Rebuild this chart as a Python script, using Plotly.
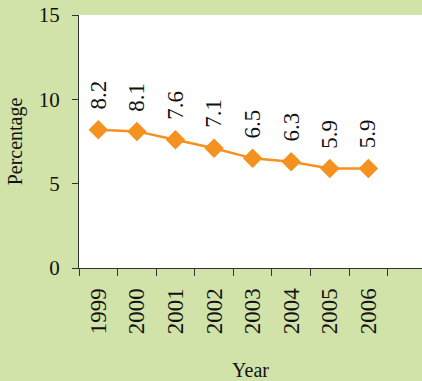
import plotly.graph_objects as go

# Percentage by year
years = ["1999", "2000", "2001", "2002", "2003", "2004", "2005", "2006"]
percentage = [8.2, 8.1, 7.6, 7.1, 6.5, 6.3, 5.9, 5.9]
y_ticks = [0, 5, 10, 15]

BG = "#d1e3a9"
ORANGE = "#f5911e"
FONT = "Liberation Serif"
INK = "#111111"

fig = go.Figure()
fig.add_trace(go.Scatter(
    x=years, y=percentage, mode="lines+markers",
    line=dict(color=ORANGE, width=2.5),
    marker=dict(symbol="diamond", size=15, color=ORANGE),
    showlegend=False, cliponaxis=False,
))

# Rotated value labels above each point (category index positions)
for i, v in enumerate(percentage):
    fig.add_annotation(
        x=i, y=v, xref="x", yref="y", text=f"{v:.1f}", showarrow=False,
        textangle=-90, xanchor="center", yanchor="bottom", yshift=18,
        font=dict(family=FONT, size=23, color=INK),
    )

fig.update_layout(
    width=422, height=381,
    margin=dict(l=79, r=0, t=15, b=113),
    paper_bgcolor=BG, plot_bgcolor="white",
    font=dict(family=FONT, color=INK),
)
fig.update_xaxes(
    type="category", range=[-0.5, 8.39], tickson="boundaries",
    ticks="outside", ticklen=7, tickcolor="#333", tickwidth=1,
    showline=True, linecolor="#333", linewidth=1, showgrid=False,
    tickangle=-90, tickfont=dict(family=FONT, size=23, color=INK),
    ticklabelstandoff=10,
    title=dict(text="Year", font=dict(family=FONT, size=20, color=INK), standoff=30),
)
fig.update_yaxes(
    range=[0, 15], tickvals=y_ticks,
    ticks="outside", ticklen=6, tickcolor="#333", tickwidth=1,
    showline=True, linecolor="#333", linewidth=1, showgrid=False, zeroline=False,
    tickfont=dict(family=FONT, size=21, color=INK), ticklabelstandoff=8,
    title=dict(text="Percentage", font=dict(family=FONT, size=20, color=INK), standoff=10),
)

fig.write_html("out.html")
